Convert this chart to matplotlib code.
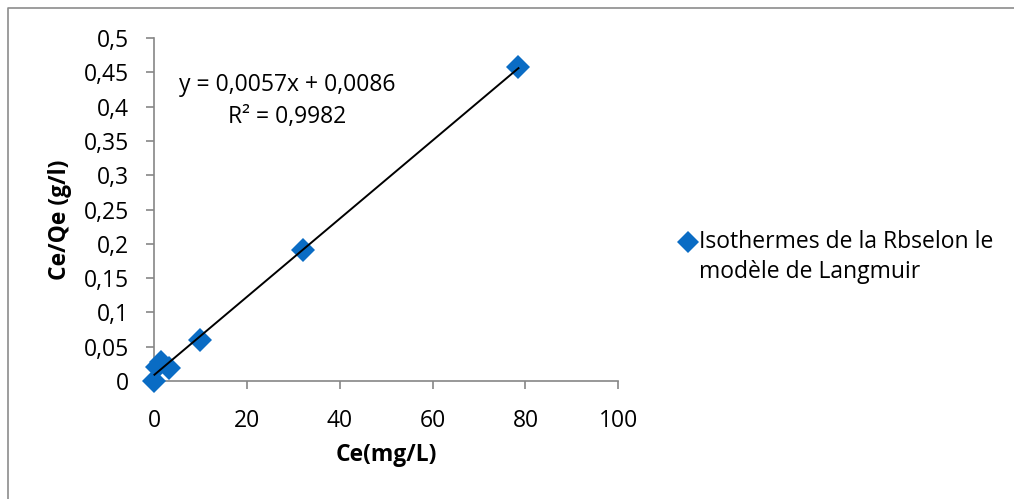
import matplotlib
matplotlib.use("Agg")
import matplotlib.pyplot as plt
from matplotlib.lines import Line2D
import numpy as np

# Langmuir linearisation data: Ce (mg/L) vs Ce/Qe (g/l)
ce = [0.1, 0.6, 1.5, 3.2, 10.0, 32.0, 78.5]
ce_qe = [0.0, 0.020, 0.027, 0.019, 0.060, 0.191, 0.458]

# Linear trend line as reported
slope = 0.0057
intercept = 0.0086
r2_text = "R² = 0,9982"

x_ticks = [0, 20, 40, 60, 80, 100]
y_ticks = [0, 0.05, 0.1, 0.15, 0.2, 0.25, 0.3, 0.35, 0.4, 0.45, 0.5]
y_tick_labels = ["0", "0,05", "0,1", "0,15", "0,2", "0,25", "0,3", "0,35", "0,4", "0,45", "0,5"]

series_label_1 = "Isothermes de la Rbselon le"
series_label_2 = "modèle de Langmuir"

FONT = "Open Sans"
FS = 16.5
BLUE = "#0A6CC4"
GREY = "#868686"

W, H = 1014, 499
fig = plt.figure(figsize=(W / 100, H / 100), dpi=100)
plt.rcParams["font.family"] = [FONT, "DejaVu Sans"]

ax = fig.add_axes([154 / W, 1 - 381 / H, (618.3 - 154) / W, (381 - 38) / H])

ax.plot(ce, ce_qe, linestyle="none", marker="D", markersize=12.5,
        color=BLUE, markeredgewidth=0, zorder=3, clip_on=False)

xs = np.array([min(ce), max(ce)])
ax.plot(xs, slope * xs + intercept, color="black", linewidth=1.4, zorder=4,
        clip_on=False)

ax.set_xlim(0, 100)
ax.set_ylim(0, 0.5)
ax.set_xticks(x_ticks)
ax.set_xticklabels([str(v) for v in x_ticks])
ax.set_yticks(y_ticks)
ax.set_yticklabels(y_tick_labels)

for s in ("top", "right"):
    ax.spines[s].set_visible(False)
for s in ("left", "bottom"):
    ax.spines[s].set_color(GREY)
    ax.spines[s].set_linewidth(1.2)
    ax.spines[s].set_zorder(1)
ax.tick_params(axis="both", direction="out", length=6, width=1.2, color=GREY,
               labelsize=FS)
ax.tick_params(axis="y", pad=12)
ax.tick_params(axis="x", pad=14.5)
for lab in ax.get_xticklabels() + ax.get_yticklabels():
    lab.set_fontfamily(FONT)

# Axis titles
fig.text(386 / W, 1 - 455 / H, "Ce(mg/L)", ha="center", va="center",
         fontsize=FS, fontweight="bold", family=FONT)
fig.text(60 / W, 1 - 220 / H, "Ce/Qe (g/l)", ha="center", va="center",
         rotation=90, fontsize=FS, fontweight="bold", family=FONT)

# Trend line equation
eq_text = "y = {:.4f}x + {:.4f}".format(slope, intercept).replace(".", ",")
fig.text(287 / W, 1 - 85 / H, eq_text, ha="center", va="center",
         fontsize=FS, family=FONT)
fig.text(287 / W, 1 - 117 / H, r2_text, ha="center", va="center",
         fontsize=FS, family=FONT)

# Legend
fig.add_artist(Line2D([688 / W], [1 - 242 / H], transform=fig.transFigure,
                      marker="D", markersize=11, color=BLUE,
                      markeredgewidth=0, linestyle="none"))
fig.text(699 / W, 1 - 242 / H, series_label_1, ha="left", va="center",
         fontsize=FS, family=FONT)
fig.text(699 / W, 1 - 272 / H, series_label_2, ha="left", va="center",
         fontsize=FS, family=FONT)

# Chart area border (top and left edges)
fig.add_artist(Line2D([8 / W, 8 / W, 1.0], [0.0, 1 - 8 / H, 1 - 8 / H],
                      transform=fig.transFigure, color="#8C8C8C", linewidth=1.2))

fig.savefig("out.png", dpi=100)
